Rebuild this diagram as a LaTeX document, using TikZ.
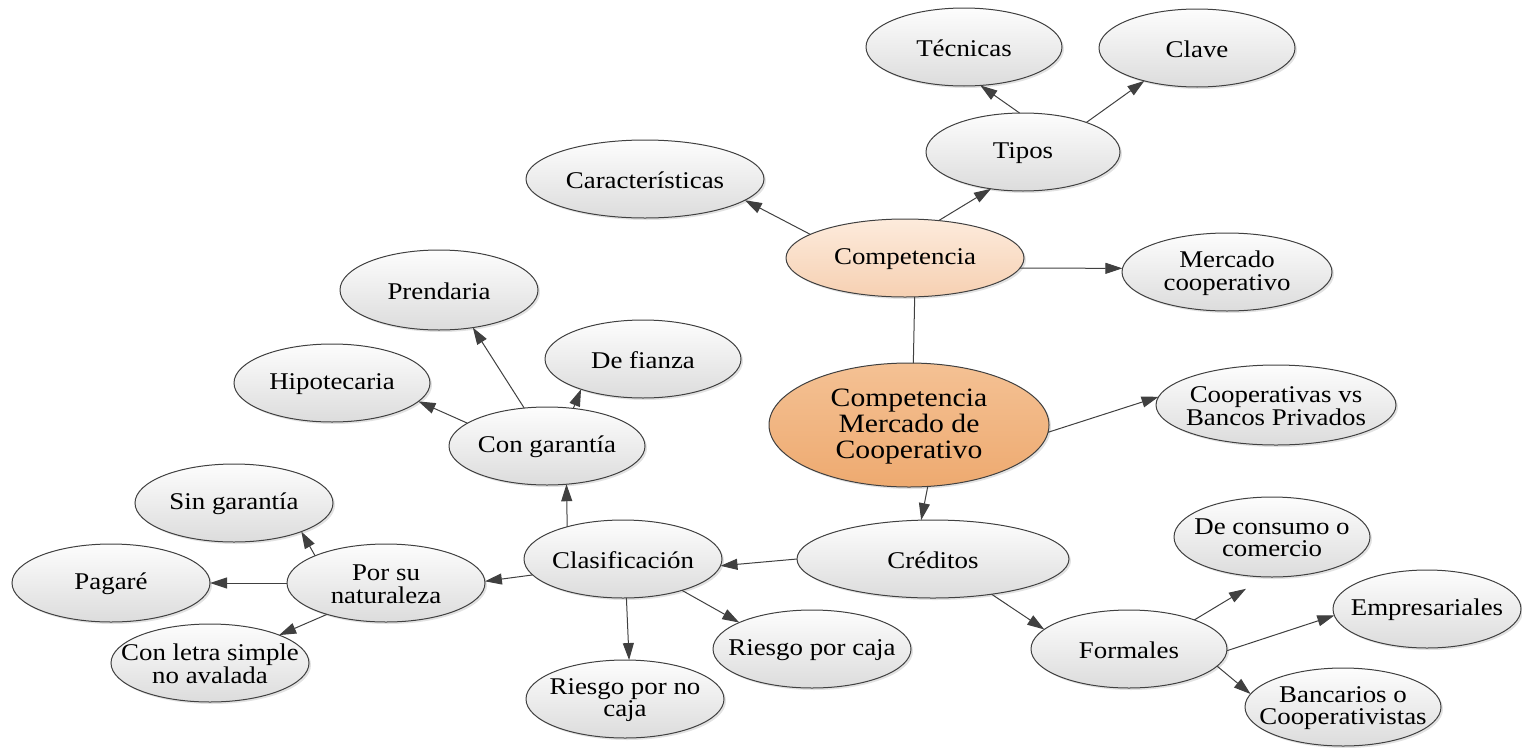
\documentclass[tikz,border=0pt]{standalone}
\usepackage{fontspec}
\setmainfont{Liberation Serif}[FakeStretch=1.12]
\usetikzlibrary{arrows.meta,shapes.geometric,shadows}

\definecolor{edgec}{HTML}{404040}
\definecolor{greytop}{HTML}{FDFDFD}
\definecolor{greybot}{HTML}{DCDCDC}
\definecolor{peachtop}{HTML}{FDEBDC}
\definecolor{peachbot}{HTML}{F6D0B2}
\definecolor{orangetop}{HTML}{F4C194}
\definecolor{orangebot}{HTML}{EEAA70}

\tikzset{
  bub/.style={ellipse, draw=edgec, line width=1pt, inner sep=0pt, outer sep=0pt,
    top color=greytop, bottom color=greybot,
    drop shadow={shadow xshift=2pt, shadow yshift=-2pt, opacity=.25, fill=black!45}},
  peach/.style={bub, top color=peachtop, bottom color=peachbot},
  hub/.style={bub, top color=orangetop, bottom color=orangebot},
  txt/.style={align=center, inner sep=0pt, text=black,
    font=\fontsize{24}{22.5}\selectfont},
  bigtxt/.style={txt, font=\fontsize{26.5}{26}\selectfont},
  link/.style={draw=edgec, line width=1pt, -{Triangle[length=17pt,width=11pt]}},
  plain/.style={draw=edgec, line width=1pt},
}

% \bubnode[style]{name}{x,y}{width}{height}{text}
\newcommand\bubnode[6][bub]{%
  \node[#1, minimum width=#4, minimum height=#5] (#2) at (#3) {};
  \node[txt] (#2-t) at ([yshift=-1pt]#2.center) {#6};}

\begin{document}
\begin{tikzpicture}[x=1pt, y=-1pt]
\useasboundingbox (0,0) rectangle (1522,747);

% competition branch
\bubnode{tec}{964,47}{196pt}{78pt}{Técnicas}
\bubnode{clave}{1197,48}{196pt}{78pt}{Clave}
\bubnode{tipos}{1023,152}{194pt}{78pt}{Tipos}
\bubnode{car}{645,179}{238pt}{78pt}{Características}
\bubnode[peach]{comp}{905,258}{238pt}{78pt}{Competencia}
\bubnode{merc}{1227,272}{210pt}{78pt}{Mercado\\cooperativo}

% central topic
\node[hub, minimum width=280pt, minimum height=124pt] (central) at (909,425) {};
\node[bigtxt] (central-t) at ([yshift=-2pt]central.center) {Competencia\\Mercado de\\Cooperativo};
\bubnode{coop}{1276,405}{240pt}{80pt}{Cooperativas vs\\Bancos Privados}

% guarantees
\bubnode{pren}{439,290}{198pt}{80pt}{Prendaria}
\bubnode{fian}{643,359}{196pt}{78pt}{De fianza}
\bubnode{hip}{332,383}{196pt}{78pt}{Hipotecaria}
\bubnode{cong}{547,446}{196pt}{78pt}{Con garantía}

% classification
\bubnode{sing}{234,503}{198pt}{78pt}{Sin garantía}
\bubnode{clas}{623,559}{198pt}{78pt}{Clasificación}
\bubnode{psn}{386,583}{198pt}{78pt}{Por su\\naturaleza}
\bubnode{pag}{111,583}{198pt}{78pt}{Pagaré}
\bubnode{cls}{210,663}{198pt}{78pt}{Con letra simple\\no avalada}
\bubnode{rc}{812,649}{198pt}{78pt}{Riesgo por caja}
\bubnode{rnc}{625,699}{198pt}{78pt}{Riesgo por no\\caja}

% credits
\bubnode{cred}{933,559}{272pt}{78pt}{Créditos}
\bubnode{form}{1129,649}{196pt}{78pt}{Formales}
\bubnode{dec}{1272,537}{196pt}{80pt}{De consumo o\\comercio}
\bubnode{emp}{1427,609}{188pt}{78pt}{Empresariales}
\bubnode{banc}{1343,707}{196pt}{78pt}{Bancarios o\\Cooperativistas}

% connectors
\draw[link] (tipos.95.9) -- (tec.-67.7);
\draw[link] (tipos.25.1) -- (clave.212.2);
\draw[link] (comp.48.3) -- (tipos.229.1);
\draw[link] (comp.166.1) -- (car.-12.1);
\draw[link] (comp.-5.7) -- (merc.178.9);
\draw[plain] (comp.-76) -- (central.86.2);
\draw[link] (central.-3.2) -- (coop.176.7);
\draw[link] (central.-73.8) -- (cred.107.1);
\draw[link] (cred.180) -- (clas.-4.6);
\draw[link] (cred.-31.7) -- (form.167.1);
\draw[link, shorten >=23pt] (form.24.4) -- (dec.-99.6);
\draw[link] (form.-1.8) -- (emp.184.9);
\draw[link] (form.-11.8) -- (banc.172.5);
\draw[link] (clas.150.8) -- (cong.-63.6);
\draw[link] (clas.190.9) -- (psn.1.7);
\draw[link] (clas.-85.6) -- (rnc.84.1);
\draw[link] (clas.-28.8) -- (rc.160.2);
\draw[link] (cong.164.6) -- (hip.-12.4);
\draw[link] (cong.121.2) -- (pren.-48);
\draw[link] (cong.55.6) -- (fian.206.9);
\draw[link] (psn.159.9) -- (sing.-23.8);
\draw[link] (psn.180) -- (pag.0);
\draw[link] (psn.208.4) -- (cls.22.6);
\end{tikzpicture}
\end{document}
